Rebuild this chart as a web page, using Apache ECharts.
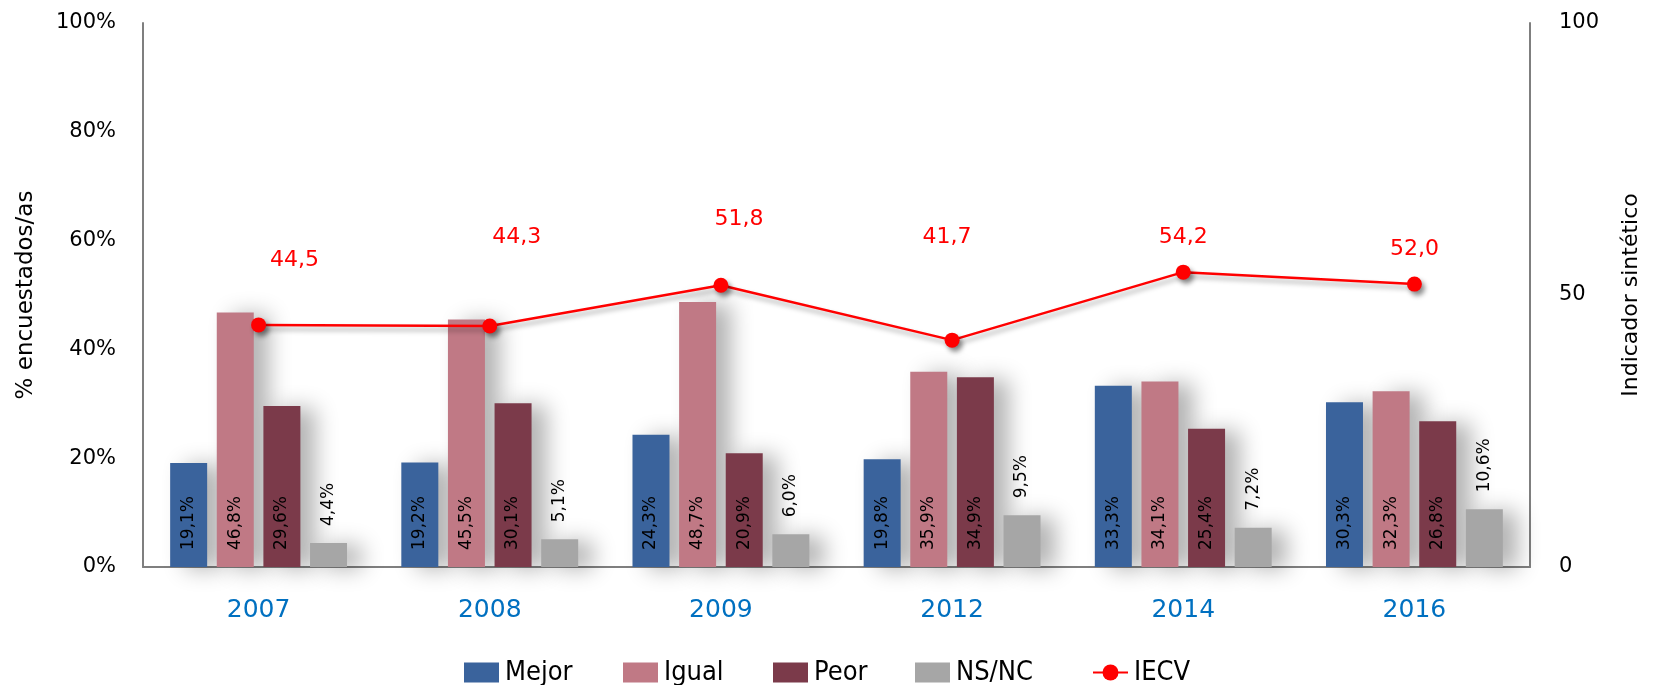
<!DOCTYPE html>
<html>
<head>
<meta charset="utf-8">
<script src="https://cdn.jsdelivr.net/npm/echarts@6/dist/echarts.min.js"></script>
<style>
  html, body { margin: 0; padding: 0; background: #ffffff; }
  #chart { width: 1657px; height: 685px; }
</style>
</head>
<body>
<div id="chart"></div>
<script>
// ---- data ----
const categories = ['2007', '2008', '2009', '2012', '2014', '2016'];
const mejor = [19.1, 19.2, 24.3, 19.8, 33.3, 30.3];
const igual = [46.8, 45.5, 48.7, 35.9, 34.1, 32.3];
const peor  = [29.6, 30.1, 20.9, 34.9, 25.4, 26.8];
const nsnc  = [4.4, 5.1, 6.0, 9.5, 7.2, 10.6];
const iecv  = [44.5, 44.3, 51.8, 41.7, 54.2, 52.0];
const seriesNames = ['Mejor', 'Igual', 'Peor', 'NS/NC', 'IECV'];
const leftTicks = [0, 20, 40, 60, 80, 100];
const rightTicks = [0, 50, 100];

// ---- build ----
const FONT = '"DejaVu Sans", Verdana, sans-serif';
const LEGFONT = '"DejaVu Sans Condensed", "DejaVu Sans", sans-serif';
const fmtComma = (v, d) => Number(v).toFixed(d).replace('.', ',');

const barShadow = {
  shadowColor: 'rgba(0,0,0,0.30)',
  shadowBlur: 22,
  shadowOffsetX: 15,
  shadowOffsetY: 2
};

function barSeries(name, values, color, outside) {
  return {
    name: name,
    type: 'bar',
    data: values,
    barWidth: 37,
    barGap: '26%',
    itemStyle: Object.assign({ color: color }, barShadow),
    label: {
      show: true,
      position: outside ? 'top' : 'insideBottom',
      rotate: 90,
      align: 'left',
      verticalAlign: 'middle',
      distance: 17,
      color: '#000',
      fontFamily: FONT,
      fontSize: 17,
      formatter: p => fmtComma(p.value, 1) + '%'
    },
    z: 2
  };
}

// label nudges for the IECV values (placement only)
const nudge = [[36, -65], [27, -89], [18, -66], [-5, -103], [0, -35], [0, -35]];

// one legend per entry so each key sits where the reference puts it
const legendLeft = [464, 623, 773, 915, 1092];
const legends = seriesNames.map((n, i) => ({
  left: legendLeft[i],
  top: 659,
  padding: 0,
  itemWidth: 35,
  itemHeight: 20,
  itemGap: 0,
  textStyle: { fontFamily: LEGFONT, fontSize: 27, color: '#000', padding: [2, 0, 0, 1] },
  data: [i === 4 ? { name: n } : { name: n, icon: 'rect' }]
}));

const option = {
  animation: false,
  backgroundColor: '#ffffff',
  grid: { left: 143, right: 127, top: 23, bottom: 118, containLabel: false },
  legend: legends,
  xAxis: {
    type: 'category',
    data: categories,
    axisLine: { show: true, lineStyle: { color: '#7f7f7f', width: 2 } },
    axisTick: { show: false },
    axisLabel: { color: '#0070C0', fontFamily: FONT, fontSize: 25, margin: 31 },
    splitLine: { show: false }
  },
  yAxis: [
    {
      type: 'value',
      min: leftTicks[0],
      max: leftTicks[leftTicks.length - 1],
      interval: leftTicks[1] - leftTicks[0],
      name: '% encuestados/as',
      nameLocation: 'middle',
      nameRotate: 90,
      nameGap: 105,
      nameTextStyle: { fontFamily: FONT, fontSize: 23, color: '#000' },
      axisLine: { show: true, lineStyle: { color: '#7f7f7f', width: 2 } },
      axisTick: { show: false },
      axisLabel: { color: '#000', fontFamily: FONT, fontSize: 21, margin: 27, formatter: '{value}%' },
      splitLine: { show: false }
    },
    {
      type: 'value',
      min: rightTicks[0],
      max: rightTicks[rightTicks.length - 1],
      interval: rightTicks[1] - rightTicks[0],
      name: 'Indicador sintético',
      nameLocation: 'middle',
      nameRotate: 90,
      nameGap: 90,
      nameTextStyle: { fontFamily: FONT, fontSize: 22, color: '#000' },
      axisLine: { show: true, lineStyle: { color: '#7f7f7f', width: 2 } },
      axisTick: { show: false },
      axisLabel: { color: '#000', fontFamily: FONT, fontSize: 21, margin: 29 },
      splitLine: { show: false }
    }
  ],
  series: [
    barSeries(seriesNames[0], mejor, '#3A639C', false),
    barSeries(seriesNames[1], igual, '#C07985', false),
    barSeries(seriesNames[2], peor, '#7B3A4A', false),
    barSeries(seriesNames[3], nsnc, '#A6A6A6', true),
    {
      name: seriesNames[4],
      type: 'line',
      yAxisIndex: 1,
      data: iecv.map((v, i) => ({
        value: v,
        label: { offset: nudge[i] }
      })),
      symbol: 'circle',
      symbolSize: 15,
      color: '#FF0000',
      lineStyle: {
        color: '#FF0000', width: 2.5,
        shadowColor: 'rgba(0,0,0,0.35)', shadowBlur: 5, shadowOffsetX: 2, shadowOffsetY: 4
      },
      itemStyle: {
        color: '#FF0000',
        shadowColor: 'rgba(0,0,0,0.45)', shadowBlur: 5, shadowOffsetX: 3, shadowOffsetY: 4
      },
      label: {
        show: true,
        position: 'inside',
        color: '#FF0000',
        fontFamily: FONT,
        fontSize: 22,
        formatter: p => fmtComma(p.value, 1)
      },
      z: 5
    }
  ]
};

const chart = echarts.init(document.getElementById('chart'), null, { renderer: 'canvas' });
chart.setOption(option);
</script>
</body>
</html>
